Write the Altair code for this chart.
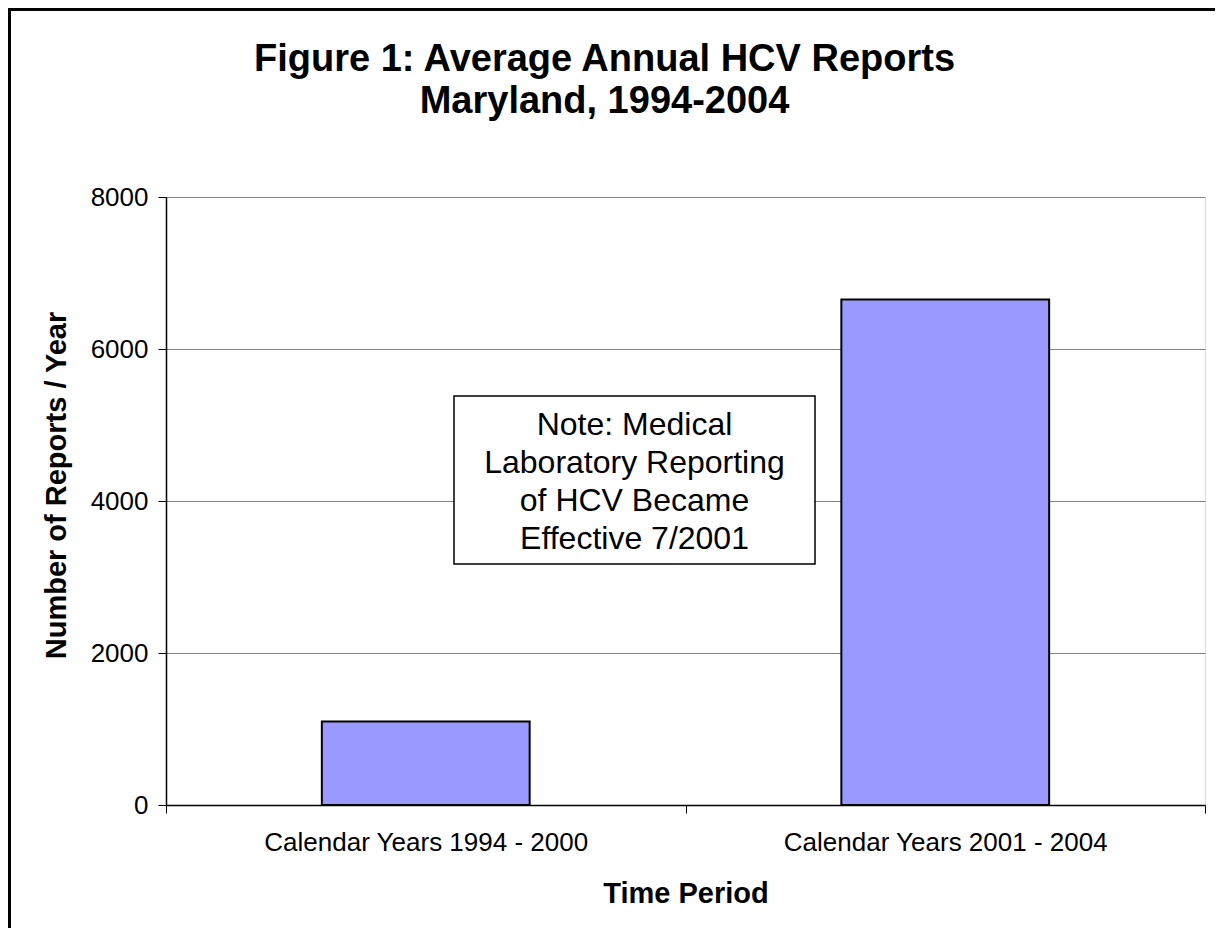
import json
import altair as alt
import pandas as pd

# ---- data ----
categories = ["Calendar Years 1994 - 2000", "Calendar Years 2001 - 2004"]
values = [1100, 6650]
y_ticks = [0, 2000, 4000, 6000, 8000]
note_lines = ["Note: Medical", "Laboratory Reporting", "of HCV Became", "Effective 7/2001"]
title_lines = ["Figure 1: Average Annual HCV Reports", "Maryland, 1994-2004"]

FONT = "Liberation Sans"

df = pd.DataFrame({"category": categories, "value": values})
df["slot"] = range(len(df))
df["x0"] = df["slot"] + 0.3
df["x1"] = df["slot"] + 0.7
df["base"] = 0

n = len(categories)
x_tick_vals = [i * 0.5 for i in range(2 * n + 1)]
label_expr = ("datum.value % 1 == 0.5 ? " + json.dumps(categories) +
              "[floor(datum.value)] : ''")

x_scale = alt.Scale(domain=[0, n], nice=False, zero=False)
y_scale = alt.Scale(domain=[0, 8000], nice=False)

bars = alt.Chart(df).mark_rect(color="#9999FF", stroke="black", strokeWidth=2).encode(
    x=alt.X("x0:Q", scale=x_scale, axis=alt.Axis(
        values=x_tick_vals, labelExpr=label_expr,
        tickOpacity={"condition": {"test": "datum.value % 1 == 0", "value": 1}, "value": 0},
        tickSize=8, tickColor="black", domainColor="black", domainWidth=1.5,
        grid=False, labelFlush=False, labelOverlap=False, labelLimit=0,
        labelFont=FONT, labelFontSize=26, labelColor="black", labelPadding=16,
        title="Time Period", titleFont=FONT, titleFontSize=29, titleFontWeight="bold",
        titleColor="black", titlePadding=24)),
    x2="x1:Q",
    y=alt.Y("value:Q", scale=y_scale, axis=alt.Axis(
        values=y_ticks, format="d", grid=True, gridColor="#808080", gridWidth=1,
        tickSize=8, tickColor="black", domainColor="black", domainWidth=1.5,
        labelFont=FONT, labelFontSize=26, labelColor="black", labelPadding=10,
        title="Number of Reports / Year", titleFont=FONT, titleFontSize=29,
        titleFontWeight="bold", titleColor="black", titlePadding=19, titleY=288)),
    y2="base:Q",
)

one = pd.DataFrame({"k": [0]})

frame = alt.Chart(one).mark_rect(fill="transparent", stroke="black", strokeWidth=3).encode(
    x=alt.value(-156.5), x2=alt.value(1200), y=alt.value(-187.5), y2=alt.value(900))

box = alt.Chart(one).mark_rect(fill="white", stroke="black", strokeWidth=1.5).encode(
    x=alt.value(288), x2=alt.value(649), y=alt.value(199), y2=alt.value(367))

note = alt.Chart(one).mark_text(
    text=note_lines, font=FONT, fontSize=32, lineHeight=38, align="center",
    baseline="middle", color="black").encode(x=alt.value(468.5), y=alt.value(228))

chart = alt.layer(frame, bars, box, note).properties(
    width=1039, height=608,
    autosize=alt.AutoSizeParams(type="none"),
    padding={"left": 158, "top": 189, "right": 10, "bottom": 123},
    title=alt.Title(title_lines, font=FONT, fontSize=38, fontWeight="bold",
                    lineHeight=42, anchor="middle", dx=-81, offset=0, dy=113,
                    color="black"),
).configure_view(stroke="#808080", strokeWidth=1).configure(background="white")

chart.save("out.html", embed_options={"renderer": "svg", "actions": False})
